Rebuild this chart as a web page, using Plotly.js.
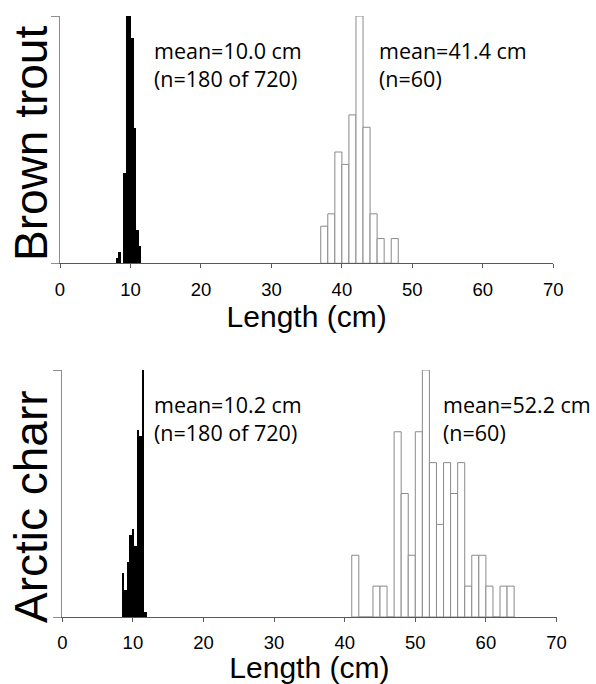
<!DOCTYPE html>
<html>
<head>
<meta charset="utf-8">
<script src="https://cdn.plot.ly/plotly-3.0.1.min.js"></script>
<style>html,body{margin:0;padding:0;background:#fff}#chart{width:596px;height:684px}</style>
</head>
<body>
<div id="chart"></div>
<script>
// ---------- data ----------
const lengthTicks = [0, 10, 20, 30, 40, 50, 60, 70];

// Brown trout: juveniles (black) — bin lower edges (cm) and counts
const troutJuvEdges = [7.94, 8.30, 8.65, 9.01, 9.36, 9.72, 10.07, 10.43, 10.78, 11.14];
const troutJuvCounts = [1, 2, 0, 16, 44, 44, 40, 24, 6, 3];
// Brown trout: adults (open) — 1 cm bins
const troutAdultEdges = [37, 38, 39, 40, 41, 42, 43, 44, 45, 46, 47];
const troutAdultCounts = [3, 4, 9, 8, 12, 20, 11, 4, 2, 0, 2];

// Arctic charr: juveniles (black)
const charrJuvEdges = [8.41, 8.77, 9.12, 9.48, 9.83, 10.19, 10.54, 10.90, 11.25, 11.61];
const charrJuvCounts = [8, 5, 10, 15, 16, 13, 34, 33, 45, 1];
// Arctic charr: adults (open)
const charrAdultEdges = [41, 42, 43, 44, 45, 46, 47, 48, 49, 50, 51, 52, 53, 54, 55, 56, 57, 58, 59, 60, 61, 62, 63];
const charrAdultCounts = [2, 0, 0, 1, 1, 0, 6, 4, 2, 6, 8, 5, 3, 5, 4, 5, 1, 2, 2, 1, 0, 1, 1];

const panelNames = ['Brown trout', 'Arctic charr'];
const meanLabels = [
  ['mean=10.0 cm<br>(n=180 of 720)', 'mean=41.4 cm<br>(n=60)'],
  ['mean=10.2 cm<br>(n=180 of 720)', 'mean=52.2 cm<br>(n=60)']
];
const juvBinWidth = 0.36;

// ---------- figure ----------
const W = 596, H = 684;
const px = v => v / W, py = v => 1 - v / H;
const arial = 'Liberation Sans, Arial, sans-serif';
const lblFont = 'Open Sans, sans-serif';

const traces = [
  {type: 'bar', x: troutJuvEdges, y: troutJuvCounts, width: juvBinWidth, offset: 0,
   marker: {color: '#000', line: {width: 0}}, xaxis: 'x', yaxis: 'y', hoverinfo: 'skip'},
  {type: 'bar', x: troutAdultEdges, y: troutAdultCounts, width: 1, offset: 0,
   marker: {color: '#fff', line: {color: '#8a8a8a', width: 1}}, xaxis: 'x', yaxis: 'y2', hoverinfo: 'skip'},
  {type: 'bar', x: charrJuvEdges, y: charrJuvCounts, width: juvBinWidth, offset: 0,
   marker: {color: '#000', line: {width: 0}}, xaxis: 'x2', yaxis: 'y3', hoverinfo: 'skip'},
  {type: 'bar', x: charrAdultEdges, y: charrAdultCounts, width: 1, offset: 0,
   marker: {color: '#fff', line: {color: '#8a8a8a', width: 1}}, xaxis: 'x2', yaxis: 'y4', hoverinfo: 'skip'}
];

function xAxis(dom, anchor) {
  return {
    domain: dom, anchor: anchor, range: [0, 70], tickvals: lengthTicks, ticktext: lengthTicks.map(String),
    ticks: 'outside', ticklen: 4, tickcolor: '#595959', tickwidth: 1,
    showline: true, linecolor: '#595959', linewidth: 1, showgrid: false, zeroline: false,
    tickfont: {family: arial, size: 18.5, color: '#000'}, ticklabelstandoff: 5,
    title: {text: 'Length (cm)', font: {family: arial, size: 30, color: '#000'}, standoff: 2},
    fixedrange: true
  };
}
function yAxis(dom, anchor, maxV) {
  return {
    domain: dom, anchor: anchor, range: [0, maxV], tickvals: [0, maxV],
    ticks: 'outside', ticklen: 8, tickcolor: '#8c8c8c', tickwidth: 1, showticklabels: false,
    showline: true, linecolor: '#8c8c8c', linewidth: 1, showgrid: false, zeroline: false, fixedrange: true
  };
}
function yOver(over, anchor, maxV) {
  return {
    overlaying: over, anchor: anchor, side: 'left', range: [0, maxV], tickvals: [0, maxV],
    ticks: 'inside', ticklen: 9, tickcolor: '#8c8c8c', tickwidth: 1, showticklabels: false,
    showline: false, showgrid: false, zeroline: false, fixedrange: true
  };
}

const topY = [py(263.3), py(16)];
const botY = [py(617), py(370)];
const annFont = {family: lblFont, size: 21.5, color: '#000'};

const layout = {
  width: W, height: H, margin: {l: 0, r: 0, t: 0, b: 0},
  paper_bgcolor: '#fff', plot_bgcolor: 'rgba(0,0,0,0)',
  showlegend: false, barmode: 'overlay', bargap: 0,
  xaxis: xAxis([px(60), px(553.3)], 'y'),
  yaxis: yAxis(topY, 'x', Math.max(...troutJuvCounts)),
  yaxis2: yOver('y', 'x', Math.max(...troutAdultCounts)),
  xaxis2: xAxis([px(62.3), px(556.5)], 'y3'),
  yaxis3: yAxis(botY, 'x2', Math.max(...charrJuvCounts)),
  yaxis4: yOver('y3', 'x2', Math.max(...charrAdultCounts)),
  annotations: [
    {text: panelNames[0], xref: 'paper', yref: 'paper', x: px(31), y: py(144), textangle: -90,
     xanchor: 'center', yanchor: 'middle', showarrow: false, font: {family: arial, size: 46, color: '#000'}},
    {text: panelNames[1], xref: 'paper', yref: 'paper', x: px(31), y: py(507), textangle: -90,
     xanchor: 'center', yanchor: 'middle', showarrow: false, font: {family: arial, size: 46, color: '#000'}},
    {text: meanLabels[0][0], xref: 'x', yref: 'y domain', x: 13.0, y: 0.802, xanchor: 'left', yanchor: 'middle',
     align: 'left', showarrow: false, font: annFont},
    {text: meanLabels[0][1], xref: 'x', yref: 'y domain', x: 45.0, y: 0.802, xanchor: 'left', yanchor: 'middle',
     align: 'left', showarrow: false, font: annFont},
    {text: meanLabels[1][0], xref: 'x2', yref: 'y3 domain', x: 12.7, y: 0.802, xanchor: 'left', yanchor: 'middle',
     align: 'left', showarrow: false, font: annFont},
    {text: meanLabels[1][1], xref: 'x2', yref: 'y3 domain', x: 53.6, y: 0.802, xanchor: 'left', yanchor: 'middle',
     align: 'left', showarrow: false, font: annFont}
  ]
};

Plotly.newPlot('chart', traces, layout, {staticPlot: true, displayModeBar: false});
</script>
</body>
</html>
